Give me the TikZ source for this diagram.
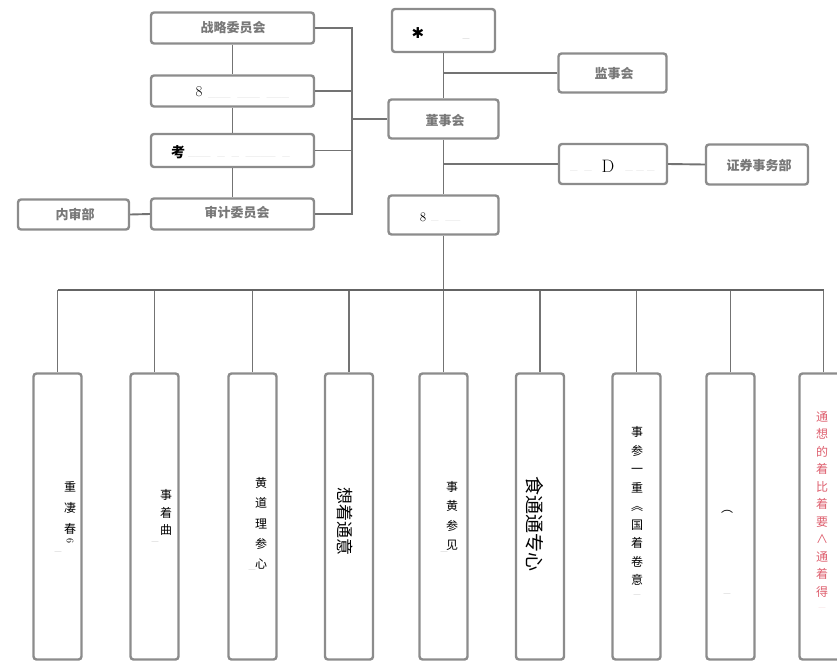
\documentclass[tikz,border=0pt]{standalone}
\usepackage{fontspec}
\newfontfamily\cjk{Noto Sans CJK SC}
\newfontfamily\dvs{DejaVu Sans}
\definecolor{boxgray}{RGB}{140,140,140}
\definecolor{linegray}{RGB}{115,115,115}
\definecolor{busgray}{RGB}{100,100,100}
\definecolor{blobgray}{RGB}{120,120,120}
\definecolor{faintgray}{RGB}{200,200,200}
\definecolor{pinkred}{RGB}{222,95,110}
\tikzset{
  box/.style={draw=boxgray, line width=2.4pt, rounded corners=3pt, fill=white, inner sep=0pt},
  topbox/.style={box, minimum width=163pt, minimum height=31pt},
  smallbox/.style={box, minimum width=108pt, minimum height=39pt},
  colbox/.style={box, minimum width=48pt, minimum height=286pt},
  conn/.style={draw=linegray, line width=1.9pt},
  bus/.style={draw=busgray, line width=2.6pt},
  blob/.style={font=\cjk\bfseries\fontsize{13}{13}\selectfont, text=blobgray, inner sep=0pt},
  faint/.style={font=\fontsize{10}{10}\selectfont, text=faintgray, inner sep=0pt},
  vtext/.style={font=\cjk\fontsize{12}{#1}\selectfont, align=center, inner sep=0pt},
  rtext/.style={font=\cjk\fontsize{#1}{#1}\selectfont, rotate=-90, inner sep=0pt},
  faintmark/.style={font=\fontsize{9}{9}\selectfont, text=faintgray!80!black, inner sep=0pt}
}
\begin{document}
\begin{tikzpicture}[x=1pt,y=-1pt]
\useasboundingbox (0,0) rectangle (837,662);
\clip (0,0) rectangle (837,662);
% ---------- left column of committees ----------
\node[topbox] (zl) at (232.5,28) {};
\node[topbox] (tm) at (232.5,91) {};
\node[topbox, minimum height=33pt] (xc) at (232.5,150.5) {};
\node[topbox] (sj) at (232.5,214) {};
\node[box, minimum width=111pt, minimum height=30pt] (ns) at (73.5,214.5) {};
% ---------- centre column ----------
\node[box, minimum width=103pt, minimum height=43pt] (gd) at (443.5,30.5) {};
\node[smallbox] (js) at (612.5,73) {};
\node[box, minimum width=110pt, minimum height=39pt] (ds) at (443.5,119) {};
\node[smallbox, minimum height=40pt] (dm) at (613,164) {};
\node[box, minimum width=102pt, minimum height=40pt] (zq) at (757,164.5) {};
\node[box, minimum width=110pt, minimum height=39pt] (zj) at (443.5,215) {};
% ---------- connectors (upper part) ----------
\coordinate (bk) at (352,119);
\draw[conn] (zl.south) -- (tm.north);
\draw[conn] (tm.south) -- (xc.north);
\draw[conn] (xc.south) -- (sj.north);
\draw[conn] (ns.east) -- (sj.west);
\draw[conn] (zl.east) -- (zl.east -| bk) -- (sj.east -| bk) -- (sj.east);
\draw[conn] (tm.east) -- (tm.east -| bk);
\draw[conn] (xc.east) -- (xc.east -| bk);
\draw[conn] (bk) -- (ds.west);
\draw[conn] (gd.south) -- (ds.north);
\draw[conn] (js.west) -- (js.west -| gd.south);
\draw[conn] (ds.south) -- (zj.north);
\draw[conn] (dm.west) -- (dm.west -| ds.south);
\draw[conn] (dm.east) -- (zq.west);
% ---------- bottom departments ----------
\foreach \i/\x in {1/57.5,2/154.5,3/252.5,4/349,5/443.5,6/540,7/636.5,8/730.5,9/823.5}{
  \node[colbox] (c\i) at (\x,516.5) {};
  \coordinate (d\i) at (\x,290);
  \draw[conn] (d\i) -- (c\i.north);
}
\draw[conn] (zj.south) -- (d5);
\draw[bus] (d1) -- (d9);
% ---------- texts, upper part ----------
\node[blob] (t1) at (233,28) {战略委员会};
\node[font=\fontsize{15}{15}\selectfont, inner sep=0pt] (t2) at (199,92) {8};
\node[faint, anchor=west] (t2b) at (208,97) {\_\_\_ \ \_\_\_ \ \_\_\_};
\node[font=\cjk\bfseries\fontsize{14}{14}\selectfont, inner sep=0pt] (t3) at (178,152) {考};
\node[faint, anchor=west] (t3b) at (188,156) {\_\_\_ \ \_ \ \_ \ \_\_\_\_ \ \_};
\node[blob] (t4) at (237,213) {审计委员会};
\node[blob] (t5) at (75,214) {内审部};
\node[font=\dvs\fontsize{15}{15}\selectfont, inner sep=0pt] (t6) at (418,33) {✱};
\node[faintmark] (t6b) at (466,38) {\_};
\node[blob] (t7) at (614,74) {监事会};
\node[blob] (t8) at (445,121) {董事会};
\node[font=\fontsize{18}{18}\selectfont, inner sep=0pt] (t9) at (608,166) {D};
\node[faint] (t9a) at (581,170) {\_ \ \_};
\node[faint] (t9b) at (640,170) {\_ \_ \_};
\node[blob] (t10) at (759,166) {证券事务部};
\node[font=\fontsize{13}{13}\selectfont, inner sep=0pt] (t11) at (423,217) {8};
\node[faint, anchor=west] (t11b) at (431,220) {\_ \ \_\_};
% ---------- texts, bottom columns ----------
\node[vtext=21] (v1) at (70,507.5) {重\\凄\\春};
\node[font=\fontsize{10}{10}\selectfont, rotate=-90, inner sep=0pt] (v1b) at (70,541) {6};
\node[faintmark] (v1c) at (58,551) {\_};
\node[vtext=17.5] (v2) at (166,512.5) {事\\着\\曲};
\node[faintmark] (v2c) at (155,541) {\_};
\node[vtext=20.2] (v3) at (261,523.5) {黄\\道\\理\\参\\心};
\node[faintmark] (v3c) at (252,569) {\_};
\node[rtext=17] (v4) at (345,521) {想着通意};
\node[vtext=19.3] (v5) at (452,516) {事\\黄\\参\\见};
\node[faintmark] (v5c) at (444,551) {\_};
\node[rtext=19] (v6) at (535,524) {食通通专心};
\node[vtext=18.5] (v7) at (637,506) {事\\参\\一\\重\\︽\\国\\着\\卷\\意};
\node[faintmark] (v7c) at (637,594) {\_};
\node[font=\cjk\fontsize{12}{12}\selectfont, inner sep=0pt] (v8) at (727,512) {︵};
\node[faintmark] (v8c) at (727,593) {\_};
\node[vtext=17.5, text=pinkred] (v9) at (822,504.5) {通\\想\\的\\着\\比\\着\\要\\∧\\通\\着\\得};
\node[faintmark, text=pinkred!40] (v9c) at (822,607) {\_};
\end{tikzpicture}
\end{document}
